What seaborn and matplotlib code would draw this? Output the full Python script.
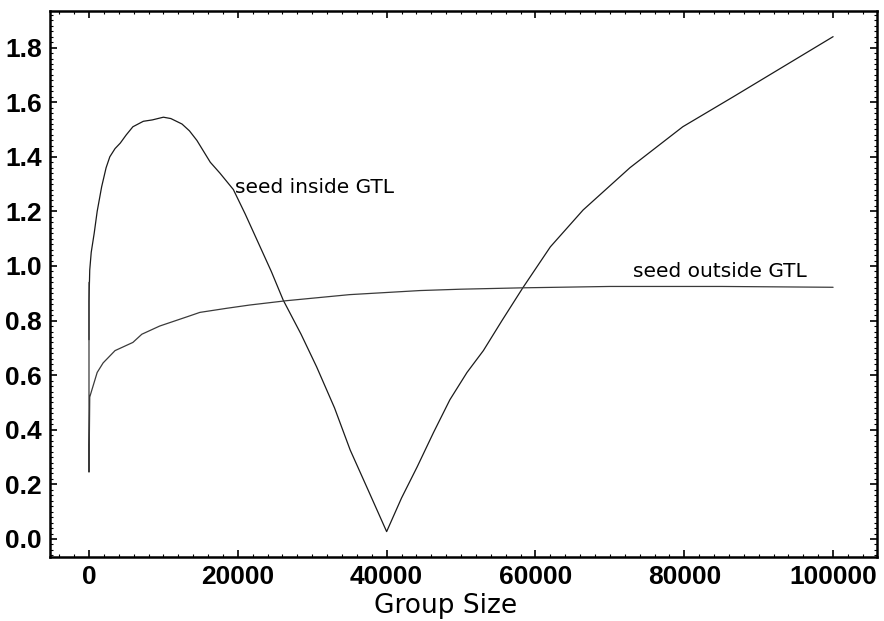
import numpy as np
import pandas as pd
import matplotlib
matplotlib.use("Agg")
import matplotlib.pyplot as plt
import seaborn as sns
from matplotlib.ticker import MultipleLocator

# ---- data ----
inside_x = [0, 0, 100, 300, 700, 1100, 1700, 2300, 2800, 3500, 4200, 5000, 5900,
            7300, 8500, 10000, 11000, 12500, 13500, 14500, 15400, 16300, 17600,
            19400, 21000, 23000, 24500, 26100, 28500, 30600, 33000, 35100,
            37500, 40000, 42000, 44100, 46300, 48500, 50800, 53000, 55500,
            58300, 62000, 66400, 72700, 79800, 86600, 93300, 100000]
inside_y = [0.73, 0.87, 0.985, 1.05, 1.12, 1.20, 1.29, 1.36, 1.40, 1.43, 1.45,
            1.48, 1.51, 1.53, 1.535, 1.545, 1.54, 1.52, 1.495, 1.46, 1.42, 1.38,
            1.34, 1.28, 1.19, 1.07, 0.98, 0.875, 0.75, 0.63, 0.48, 0.326,
            0.18, 0.027, 0.15, 0.264, 0.39, 0.51, 0.61, 0.69, 0.80,
            0.92, 1.07, 1.205, 1.36, 1.51, 1.62, 1.73, 1.84]
outside_x = [0, 0, 100, 1100, 1900, 3500, 5900, 7100, 9500, 13300, 14900,
             18500, 21600, 26600, 35000, 44500, 50000, 58300, 70000, 85000,
             100000]
outside_y = [0.94, 0.245, 0.52, 0.61, 0.645, 0.69, 0.72, 0.75, 0.78, 0.815, 0.83,
             0.845, 0.857, 0.873, 0.895, 0.91, 0.915, 0.92, 0.925, 0.925,
             0.922]
series_names = ["seed inside GTL", "seed outside GTL"]
x_ticks = [0, 20000, 40000, 60000, 80000, 100000]
y_ticks = [0.0, 0.2, 0.4, 0.6, 0.8, 1.0, 1.2, 1.4, 1.6, 1.8]

df = pd.concat([
    pd.DataFrame({"x": inside_x, "y": inside_y, "series": series_names[0]}),
    pd.DataFrame({"x": outside_x, "y": outside_y, "series": series_names[1]}),
], ignore_index=True)

sns.set_style("ticks")
plt.rcParams["font.family"] = ["DejaVu Sans"]
plt.rcParams["text.color"] = "black"

fig = plt.figure(figsize=(8.84, 6.21), dpi=100)
ax = fig.add_axes([50 / 884, 1 - 557 / 621, 827 / 884, 546 / 621])

sns.lineplot(data=df, x="x", y="y", hue="series", estimator=None, sort=False,
             palette={series_names[0]: "#1a1a1a", series_names[1]: "#3a3a3a"},
             linewidth=0.9, legend=False, ax=ax)

ax.set_xlim(-5240, 105900)
ax.set_ylim(-0.066, 1.934)
ax.set_xticks(x_ticks)
ax.set_yticks(y_ticks)
ax.set_xticklabels([str(v) for v in x_ticks])
ax.set_yticklabels([f"{v:.1f}" for v in y_ticks])
ax.xaxis.set_minor_locator(MultipleLocator(2000))
ax.yaxis.set_minor_locator(MultipleLocator(0.02))

for lab in ax.get_xticklabels() + ax.get_yticklabels():
    lab.set_fontfamily(["Liberation Sans Narrow", "Liberation Sans", "DejaVu Sans"])
    lab.set_fontweight("bold")
    lab.set_fontsize(19)
    lab.set_color("black")

ax.tick_params(which="both", direction="in", top=True, right=True, color="black")
ax.tick_params(which="major", length=5, width=1.2, pad=6)
ax.tick_params(which="minor", length=2.5, width=0.8)

for sp in ax.spines.values():
    sp.set_visible(True)
    sp.set_linewidth(1.8)
    sp.set_color("black")

ax.set_xlabel("Group Size", fontsize=19, color="black")
ax.set_ylabel("")
ax.xaxis.set_label_coords(0.478, -0.103)
ax.xaxis.label.set_va("baseline")

ax.text(19600, 1.267, "seed inside GTL", fontsize=14.5, va="baseline", ha="left",
        color="black")
ax.text(73100, 0.96, "seed outside GTL", fontsize=14.5, va="baseline", ha="left",
        color="black")

fig.savefig("out.png", dpi=100)
